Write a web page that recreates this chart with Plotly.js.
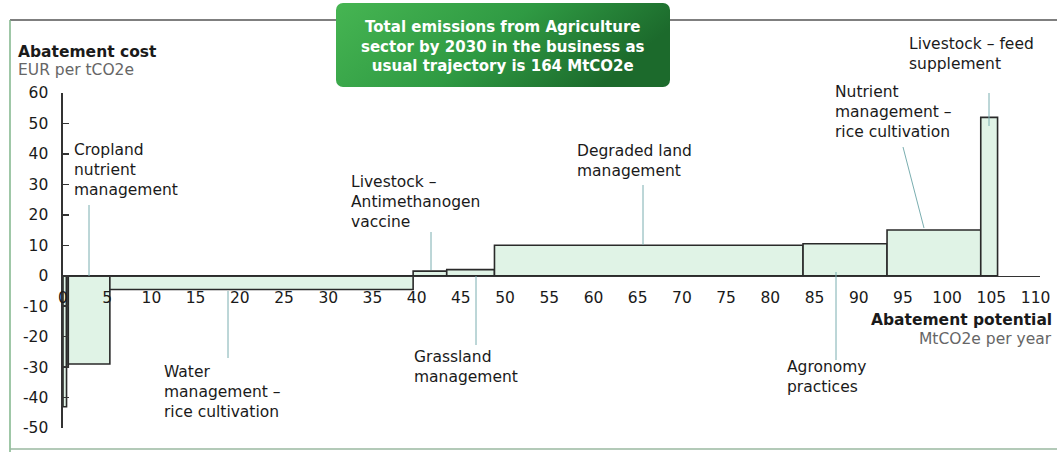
<!DOCTYPE html>
<html>
<head>
<meta charset="utf-8">
<script src="https://cdn.plot.ly/plotly-3.0.1.min.js"></script>
<style>html,body{margin:0;padding:0;background:#fff;}#chart{width:1057px;height:452px;}</style>
</head>
<body>
<div id="chart"></div>
<script>
// ---- data ----
const levers = ['Lever a', 'Lever b', 'Cropland nutrient management', 'Water management – rice cultivation',
  'Livestock – Antimethanogen vaccine', 'Grassland management', 'Degraded land management',
  'Agronomy practices', 'Nutrient management – rice cultivation', 'Livestock – feed supplement'];
const potential = [0.4, 0.2, 4.7, 34.3, 3.8, 5.4, 34.9, 9.5, 10.6, 1.9];   // MtCO2e per year (bar widths)
const cost = [-43, -30, -29, -4.5, 1.5, 2, 10, 10.5, 15, 52];               // EUR per tCO2e
const xTicks = [0, 5, 10, 15, 20, 25, 30, 35, 40, 45, 50, 55, 60, 65, 70, 75, 80, 85, 90, 95, 100, 105, 110];
const yTicks = [-50, -40, -30, -20, -10, 0, 10, 20, 30, 40, 50, 60];
const labelTexts = ['Cropland<br>nutrient<br>management', 'Water<br>management –<br>rice cultivation',
  'Livestock –<br>Antimethanogen<br>vaccine', 'Grassland<br>management', 'Degraded land<br>management',
  'Agronomy<br>practices', 'Nutrient<br>management –<br>rice cultivation', 'Livestock – feed<br>supplement'];
const titleText = 'Total emissions from Agriculture<br>sector by 2030 in the business as<br>usual trajectory is 164 MtCO2e';

// ---- derived bar geometry ----
const starts = [], centers = [];
let acc = 0;
potential.forEach(w => { starts.push(acc); centers.push(acc + w / 2); acc += w; });

// ---- layout helpers (pixel -> axis / paper) ----
const L = 63, R = 1040, T = 93, B = 428;
const XR = [0, 110.5], YR = [-50, 60];
const ux = px => XR[0] + (px - L) / (R - L) * (XR[1] - XR[0]);
const vy = py => YR[1] - (py - T) / (B - T) * (YR[1] - YR[0]);
const pxp = px => (px - L) / (R - L);
const pyp = py => (B - py) / (B - T);

const FONT = 'DejaVu Sans, Arial, sans-serif';
const FS = 15.5;
const lab = (txt, xpx, ypx, opt) => Object.assign({
  text: txt, xref: 'paper', yref: 'paper', x: pxp(xpx), y: pyp(ypx), xanchor: 'left', yanchor: 'top',
  align: 'left', showarrow: false, font: {family: FONT, size: FS, color: '#1a1a1a'}
}, opt || {});

const annotations = [
  lab(labelTexts[0], 72, 139),
  lab(labelTexts[1], 162, 361),
  lab(labelTexts[2], 349, 171),
  lab(labelTexts[3], 412, 346),
  lab(labelTexts[4], 575, 140),
  lab(labelTexts[5], 785, 356),
  lab(labelTexts[6], 833, 81),
  lab(labelTexts[7], 907, 33),
  lab('<b>Abatement cost</b>', 16, 41),
  lab('EUR per tCO2e', 16, 59, {font: {family: FONT, size: FS, color: '#666'}}),
  lab('<b>Abatement potential</b>', 1054, 309, {xanchor: 'right', align: 'right'}),
  lab('MtCO2e per year', 1054, 328, {xanchor: 'right', align: 'right', font: {family: FONT, size: FS, color: '#666'}}),
  {text: '<b>' + titleText + '</b>', xref: 'paper', yref: 'paper', x: pxp(503), y: pyp(46),
   xanchor: 'center', yanchor: 'middle', align: 'center', showarrow: false,
   font: {family: FONT, size: 15, color: '#ffffff'}}
];

const lineStyle = {color: '#7aaeb0', width: 1};
const seg = (x0, y0, x1, y1) => ({type: 'line', xref: 'x', yref: 'y',
  x0: ux(x0), y0: vy(y0), x1: ux(x1), y1: vy(y1), line: lineStyle, layer: 'above'});
const frame = {color: '#555', width: 1.5};
const shapes = [
  seg(89, 205, 89, 276),
  seg(228, 291, 228, 358),
  seg(431, 232, 431, 270),
  seg(476, 276, 476, 345),
  seg(643, 185, 643, 245),
  seg(836, 272, 836, 360),
  seg(903, 147, 924, 228),
  seg(989, 87, 989, 126),
  {type: 'line', xref: 'paper', yref: 'paper', x0: pxp(10), x1: pxp(336), y0: pyp(20), y1: pyp(20), line: frame},
  {type: 'line', xref: 'paper', yref: 'paper', x0: pxp(670), x1: pxp(1057), y0: pyp(20), y1: pyp(20), line: frame},
  {type: 'line', xref: 'paper', yref: 'paper', x0: pxp(10), x1: pxp(10), y0: pyp(20), y1: pyp(452), line: {color: '#7fb58a', width: 1.5}},
  {type: 'line', xref: 'paper', yref: 'paper', x0: pxp(10), x1: pxp(1057), y0: pyp(449), y1: pyp(449), line: {color: '#9ab8a0', width: 1.5}}
];

const grad = 'data:image/svg+xml;utf8,' + encodeURIComponent(
  '<svg xmlns="http://www.w3.org/2000/svg" width="334" height="84" viewBox="0 0 334 84">' +
  '<defs><linearGradient id="g" x1="0" y1="0" x2="1" y2="0.3">' +
  '<stop offset="0" stop-color="#46b552"/><stop offset="0.55" stop-color="#2f9a43"/>' +
  '<stop offset="1" stop-color="#1c6a2c"/></linearGradient></defs>' +
  '<rect x="0" y="0" width="334" height="84" rx="7" ry="7" fill="url(#g)"/></svg>');

const trace = {
  type: 'bar', x: centers, y: cost, width: potential, base: 0, text: levers,
  hovertemplate: '%{text}<br>%{y} EUR/tCO2e<extra></extra>',
  marker: {color: '#e0f3e6', line: {color: '#2a2a2a', width: 1.6}},
  textposition: 'none', cliponaxis: false
};

const layout = {
  width: 1057, height: 452,
  margin: {l: L, r: 1057 - R, t: T, b: 452 - B},
  paper_bgcolor: '#ffffff', plot_bgcolor: 'rgba(0,0,0,0)',
  showlegend: false, bargap: 0,
  font: {family: FONT, size: FS, color: '#1a1a1a'},
  xaxis: {range: XR, anchor: 'free', position: (0 - YR[0]) / (YR[1] - YR[0]),
    tickmode: 'array', tickvals: xTicks, ticktext: xTicks.map(String),
    showgrid: false, zeroline: false, showline: true, linecolor: '#333', linewidth: 1.6,
    ticks: '', ticklabelstandoff: 7, tickfont: {family: FONT, size: FS, color: '#1a1a1a'}},
  yaxis: {range: YR, tickmode: 'array', tickvals: yTicks, ticktext: yTicks.map(String),
    showgrid: false, zeroline: false, showline: true, linecolor: '#333', linewidth: 1.6,
    ticks: 'inside', ticklen: 6, tickwidth: 1.4, tickcolor: '#333', ticklabelstandoff: 10,
    tickfont: {family: FONT, size: FS, color: '#1a1a1a'}},
  annotations: annotations,
  shapes: shapes,
  images: [{source: grad, xref: 'paper', yref: 'paper', x: pxp(336), y: pyp(3),
    sizex: pxp(670) - pxp(336), sizey: pyp(3) - pyp(87), xanchor: 'left', yanchor: 'top',
    sizing: 'stretch', layer: 'above'}]
};

Plotly.newPlot('chart', [trace], layout, {displayModeBar: false, staticPlot: true});
</script>
</body>
</html>
